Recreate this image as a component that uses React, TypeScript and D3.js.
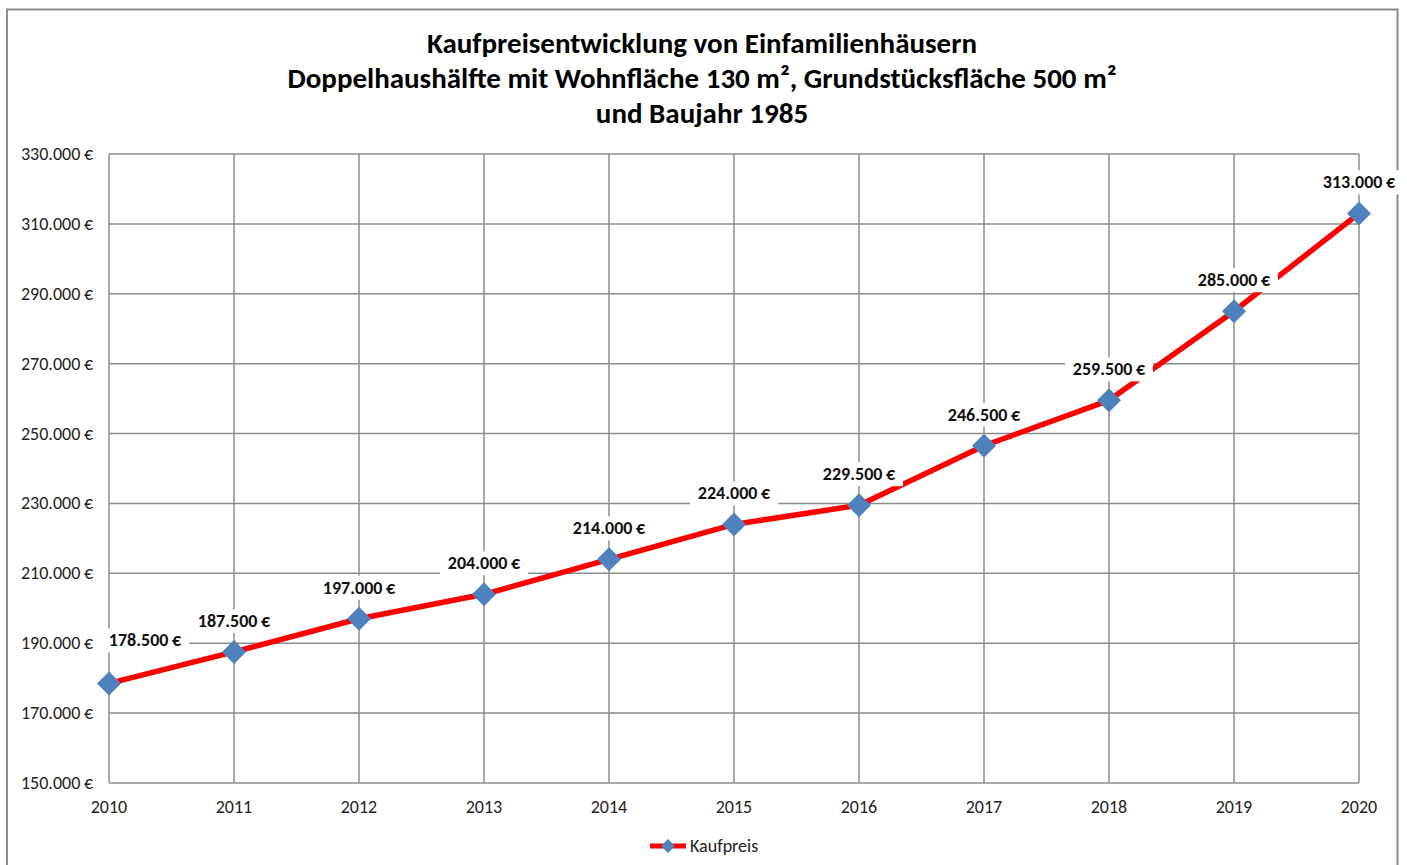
import React from "react";
import * as d3 from "d3";

const years: string[] = ["2010", "2011", "2012", "2013", "2014", "2015", "2016", "2017", "2018", "2019", "2020"];
const kaufpreis: number[] = [178500, 187500, 197000, 204000, 214000, 224000, 229500, 246500, 259500, 285000, 313000];
const yTicks: number[] = [150000, 170000, 190000, 210000, 230000, 250000, 270000, 290000, 310000, 330000];
const titleLines: string[] = [
  "Kaufpreisentwicklung von Einfamilienhäusern",
  "Doppelhaushälfte mit Wohnfläche 130 m², Grundstücksfläche 500 m²",
  "und Baujahr 1985",
];
const seriesName = "Kaufpreis";

const W = 1407;
const H = 865;
const FONT = "Carlito, Lato, 'Open Sans', sans-serif";

const de = d3.formatLocale({ decimal: ",", thousands: ".", grouping: [3], currency: ["", "\u2009€"] });
const fmt = de.format("$,.0f");

export default function App() {
  const left = 109, right = 1359, top = 154, bottom = 783;
  const x = d3.scalePoint<string>().domain(years).range([left, right]);
  const y = d3.scaleLinear().domain([150000, 330000]).range([bottom, top]);
  const line = d3.line<number>().x((_, i) => x(years[i])!).y((d) => y(d));
  const gridColor = "#8c8c8c";
  const diamond = (cx: number, cy: number, r: number) =>
    `M${cx},${cy - r}L${cx + r},${cy}L${cx},${cy + r}L${cx - r},${cy}Z`;

  return (
    <svg width={W} height={H} style={{ position: "absolute", left: 0, top: 0, background: "#fff" }}>
      <rect x={0} y={0} width={W} height={H} fill="#fff" />
      <path d={`M7,${H + 5}V9.5H1397.5V${H + 5}`} fill="none" stroke="#8c8c8c" strokeWidth={2} />
      {titleLines.map((t, i) => (
        <text key={i} x={702} y={53 + i * 35} textAnchor="middle" fontFamily={FONT} fontWeight="bold" fontSize={29} fill="#000">
          {t}
        </text>
      ))}
      {yTicks.map((v) => (
        <line key={v} x1={left} x2={right} y1={y(v)} y2={y(v)} stroke={gridColor} strokeWidth={1.5} />
      ))}
      {years.map((yr) => (
        <line key={yr} x1={x(yr)} x2={x(yr)} y1={top} y2={bottom} stroke={gridColor} strokeWidth={1.5} />
      ))}
      {yTicks.map((v) => (
        <text key={v} x={93} y={y(v) + 6} textAnchor="end" fontFamily={FONT} fontSize={18} fill="#222">
          {fmt(v)}
        </text>
      ))}
      {years.map((yr) => (
        <text key={yr} x={x(yr)} y={813} textAnchor="middle" fontFamily={FONT} fontSize={18} fill="#222">
          {yr}
        </text>
      ))}
      <path d={line(kaufpreis)!} fill="none" stroke="#ff0000" strokeWidth={5.5} strokeLinejoin="round" />
      {kaufpreis.map((v, i) => (
        <path key={i} d={diamond(x(years[i])!, y(v), 12)} fill="#4f81bd" />
      ))}
      {kaufpreis.map((v, i) => {
        const px = x(years[i])!;
        const py = y(v);
        const first = i === 0;
        const cx = first ? px + 36 : px;
        const cy = first ? py - 43 : py - 31;
        const w = 88;
        return (
          <g key={i}>
            <rect x={cx - w / 2} y={cy - 12} width={w} height={24} fill="#fff" />
            <text x={cx} y={cy + 6} textAnchor="middle" fontFamily={FONT} fontWeight="bold" fontSize={18} fill="#111">
              {fmt(v)}
            </text>
          </g>
        );
      })}
      <line x1={650} x2={686} y1={846} y2={846} stroke="#ff0000" strokeWidth={5} />
      <path d={diamond(668, 846, 7)} fill="#4f81bd" />
      <text x={690} y={852} fontFamily={FONT} fontSize={18} fill="#222">
        {seriesName}
      </text>
    </svg>
  );
}
